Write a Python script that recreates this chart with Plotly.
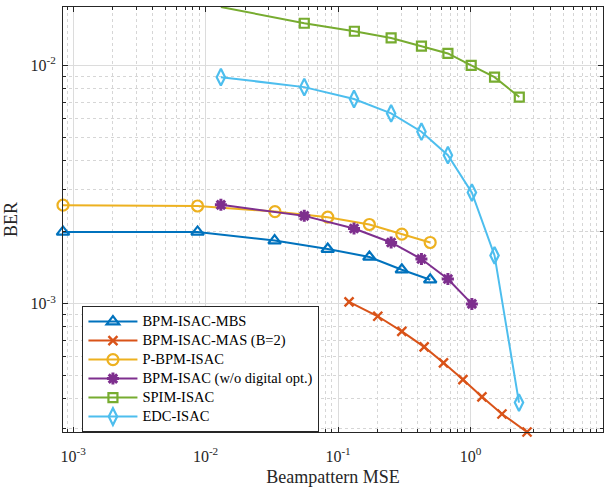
import plotly.graph_objects as go
import numpy as np

# ---- data ----
mbs_x = [8.39e-4, 8.70e-3, 0.0332, 0.0836, 0.1724, 0.303, 0.496]
mbs_y = [2.00e-3, 2.00e-3, 1.84e-3, 1.695e-3, 1.57e-3, 1.388e-3, 1.26e-3]

mas_x = [0.1211, 0.1995, 0.303, 0.4467, 0.625, 0.876, 1.219, 1.727, 2.669]
mas_y = [1.016e-3, 8.85e-4, 7.65e-4, 6.58e-4, 5.64e-4, 4.80e-4, 4.06e-4, 3.44e-4, 2.89e-4]

pbpm_x = [8.39e-4, 8.70e-3, 0.0334, 0.0836, 0.1724, 0.303, 0.496]
pbpm_y = [2.59e-3, 2.57e-3, 2.435e-3, 2.307e-3, 2.149e-3, 1.959e-3, 1.806e-3]

wo_x = [0.01305, 0.0556, 0.132, 0.2516, 0.426, 0.675, 1.024]
wo_y = [2.599e-3, 2.336e-3, 2.067e-3, 1.806e-3, 1.539e-3, 1.269e-3, 0.997e-3]

spim_x = [0.01305, 0.0556, 0.1328, 0.2516, 0.4262, 0.675, 1.012, 1.518, 2.334]
spim_y = [0.0176, 0.01504, 0.01392, 0.01305, 0.01205, 0.01123, 0.0100, 0.00893, 0.00737]

edc_x = [0.01305, 0.0556, 0.132, 0.2516, 0.4262, 0.675, 1.024, 1.518, 2.322]
edc_y = [0.00893, 0.00811, 0.00723, 0.00629, 0.00527, 0.00420, 0.002925, 0.001593, 3.84e-4]

names = ["BPM-ISAC-MBS", "BPM-ISAC-MAS (B=2)", "P-BPM-ISAC",
         "BPM-ISAC (w/o digital opt.)", "SPIM-ISAC", "EDC-ISAC"]

x_ticks = [1e-3, 1e-2, 1e-1, 1e0, 1e1]
x_tick_text = ["10<sup>-3</sup>", "10<sup>-2</sup>", "10<sup>-1</sup>", "10<sup>0</sup>", "10<sup>1</sup>"]
y_ticks = [1e-3, 1e-2]
y_tick_text = ["10<sup>-3</sup>", "10<sup>-2</sup>"]

colors = ["#0072BD", "#D95319", "#EDB120", "#7E2F8E", "#77AC30", "#4DBEEE"]
symbols = ["triangle-up-open", "x-thin-open", "circle-open", "asterisk-open",
           "square-open", "diamond-tall-open"]
sizes = [11, 9, 11, 10, 9, 12]
mwidths = [2.2, 2.4, 2.2, 3.0, 2.2, 2.2]

series = [(mbs_x, mbs_y), (mas_x, mas_y), (pbpm_x, pbpm_y),
          (wo_x, wo_y), (spim_x, spim_y), (edc_x, edc_y)]

FONT = "Liberation Serif"
INK = "#262626"

fig = go.Figure()
for (xs, ys), nm, c, s, sz, mw in zip(series, names, colors, symbols, sizes, mwidths):
    fig.add_trace(go.Scatter(
        x=xs, y=ys, name='<span style="font-size:14.5px">' + nm + '</span>',
        mode="lines+markers",
        line=dict(color=c, width=2),
        marker=dict(symbol=s, size=sz, color=c, line=dict(color=c, width=mw)),
        cliponaxis=False,
    ))

minor_x = [k * 10.0 ** n for n in range(-4, 2) for k in range(2, 10)]
minor_y = [k * 10.0 ** n for n in range(-4, -1) for k in range(2, 10)]

axis_common = dict(
    type="log", showline=True, linecolor=INK, linewidth=1, mirror="allticks",
    ticks="inside", ticklen=5, tickcolor=INK, automargin=False,
    showgrid=True, gridcolor="#dcdcdc", gridwidth=1,
    zeroline=False, tickfont=dict(family=FONT, size=16, color=INK),
)

fig.update_xaxes(
    **axis_common,
    range=[np.log10(8.39e-4), 1.0],
    tickmode="array", tickvals=x_ticks, ticktext=x_tick_text,
    ticklabelstandoff=10,
    minor=dict(tickmode="array", tickvals=minor_x, ticks="inside", ticklen=3,
               tickcolor=INK, showgrid=True, gridcolor="#d6d6d6", griddash="dot"),
    title=dict(text="Beampattern MSE", font=dict(family=FONT, size=18, color=INK),
               standoff=7),
)
fig.update_yaxes(
    **axis_common,
    range=[np.log10(2.89e-4), np.log10(0.0176)],
    tickmode="array", tickvals=y_ticks, ticktext=y_tick_text,
    ticklabelstandoff=3,
    minor=dict(tickmode="array", tickvals=minor_y, ticks="inside", ticklen=3,
               tickcolor=INK, showgrid=True, gridcolor="#d6d6d6", griddash="dot"),
    title=dict(text="BER", font=dict(family=FONT, size=18, color=INK), standoff=8),
)

fig.update_layout(
    width=613, height=487,
    margin=dict(l=63, r=10, t=7, b=55, autoexpand=False),
    paper_bgcolor="white", plot_bgcolor="white",
    font=dict(family=FONT, color=INK),
    showlegend=True,
    legend=dict(
        x=0.036, y=0.2963, xanchor="left", yanchor="top",
        bgcolor="white", bordercolor=INK, borderwidth=1,
        font=dict(family=FONT, size=11.1, color="#000000"),
        tracegroupgap=0, itemwidth=49,
    ),
)

fig.write_html("out.html", config={"displayModeBar": False},
               post_script="document.body.style.margin='0px';")
